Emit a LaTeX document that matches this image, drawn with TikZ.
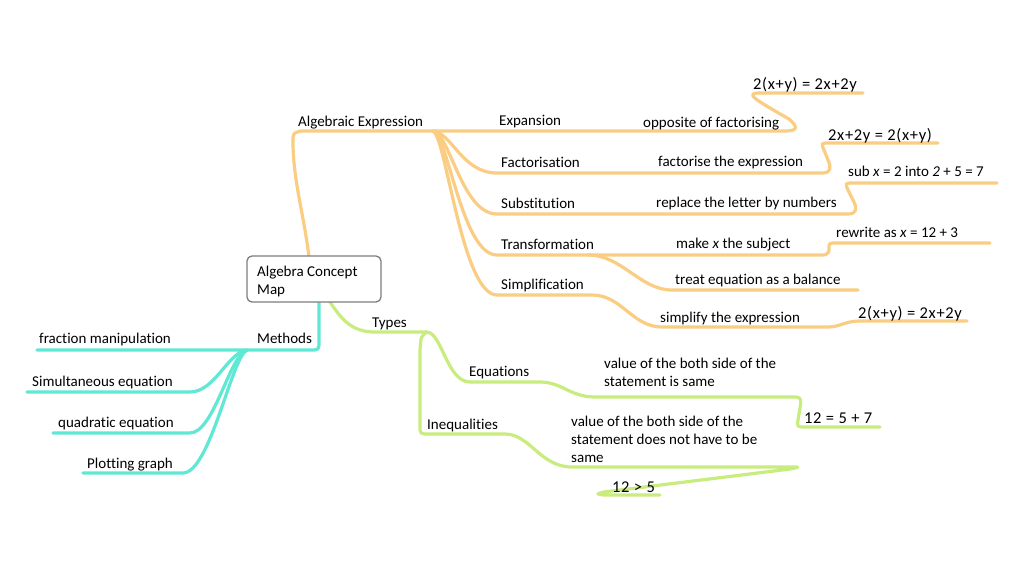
\documentclass[tikz,border=0pt]{standalone}
\usepackage{fontspec}
\setmainfont{Carlito}[Ligatures={NoCommon}]
\newfontfamily\formfont[LetterSpace=4,Ligatures={NoCommon}]{Carlito}
\definecolor{orangeL}{RGB}{250,205,130}
\definecolor{tealL}{RGB}{95,232,212}
\definecolor{greenL}{RGB}{200,236,125}
\definecolor{boxgray}{RGB}{125,125,125}
\tikzset{
  lbl/.style={anchor=base west, inner sep=0pt, font=\fontsize{15}{18}\selectfont, text=black},
  mlbl/.style={anchor=north west, inner sep=0pt, font=\fontsize{15}{18}\selectfont, align=left, text=black},
  formula/.style={anchor=base west, inner sep=0pt, font=\fontsize{16.5}{18}\formfont, text=black},
  obr/.style={draw=orangeL, line width=3.2pt, line cap=round, line join=round},
  tbr/.style={draw=tealL, line width=3.2pt, line cap=round, line join=round},
  gbr/.style={draw=greenL, line width=3.2pt, line cap=round, line join=round},
}
\begin{document}
\begin{tikzpicture}[x=1pt,y=-1pt]
\useasboundingbox[fill=white] (0,0) rectangle (1024,574);

% coordinates
\coordinate (bO) at (433,131);
\coordinate (bG) at (427,332);
\coordinate (bT) at (247,350);

% ---------- orange branches ----------
\draw[obr] (309,257) .. controls (304,215) and (293,180) .. (293,142) .. controls (293,133) .. (301,131) -- (bO);
% expansion
\draw[obr] (bO) -- (785,131) .. controls (798,131) and (798,127) .. (789,119) .. controls (754,99) and (744,93) .. (760,93) -- (863,93);
% factorisation
\draw[obr] (bO) .. controls (452,133) and (462,173) .. (497,173) -- (822,173) .. controls (832,173) and (831,167) .. (828,160) -- (824,150) .. controls (821,143) .. (830,143) -- (938,143);
% substitution
\draw[obr] (bO) .. controls (450,134) and (462,214) .. (497,214) -- (848,214) .. controls (857,214) and (857,208) .. (854,202) -- (848,190) .. controls (845,183) .. (854,183) -- (997,183);
% transformation
\draw[obr] (bO) .. controls (448,135) and (462,255) .. (497,255) -- (822,255) .. controls (830,255) and (829,250) .. (829,248) .. controls (829,243) .. (837,243) -- (990,243);
% treat equation as a balance
\draw[obr] (588,255) .. controls (622,255) and (640,290) .. (672,290) -- (858,290);
% simplification
\draw[obr] (bO) .. controls (446,136) and (462,295) .. (497,295) -- (592,295) .. controls (622,295) and (632,327) .. (662,327) -- (828,327) .. controls (840,327) and (845,321) .. (860,321) -- (967,321);

% ---------- teal branches ----------
\draw[tbr] (319,302) -- (319,341) .. controls (319,350) .. (310,350) -- (bT) -- (37,350);
\draw[tbr] (bT) .. controls (228,352) and (215,392) .. (190,392) -- (27,392);
\draw[tbr] (bT) .. controls (230,354) and (214,433) .. (190,433) -- (53,433);
\draw[tbr] (bT) .. controls (232,356) and (210,473) .. (183,473) -- (83,473);

% ---------- green branches ----------
\draw[gbr] (330,302) .. controls (342,320) and (352,332) .. (375,332) -- (bG);
% equations
\draw[gbr] (bG) .. controls (442,333) and (447,382) .. (470,382) -- (540,382) .. controls (562,382) and (570,397) .. (595,397) -- (796,397) .. controls (802,397) and (801,402) .. (800,408) -- (798,420) .. controls (797,427) .. (806,427) -- (880,427);
% inequalities
\draw[gbr] (bG) .. controls (421,336) .. (420,350) -- (420,426) .. controls (420,434) .. (430,434) -- (505,434) .. controls (530,434) and (540,467) .. (572,467) -- (792,467) .. controls (800,467) .. (790,469) -- (604,492) .. controls (596,494) .. (604,495) -- (660,495);

% ---------- central node ----------
\draw[boxgray, line width=1.3pt, rounded corners=5pt, fill=white] (247,256) rectangle (381,302);
\node[mlbl] (center) at (257,266) {Algebra Concept\\Map};

% ---------- labels ----------
\node[lbl] (alg) at (298,126) {Algebraic Expression};
\node[lbl] (exp) at (499,125) {Expansion};
\node[lbl] (fac) at (501,167) {Factorisation};
\node[lbl] (sub) at (501,208) {Substitution};
\node[lbl] (tra) at (501,249) {Transformation};
\node[lbl] (sim) at (501,289) {Simplification};

\node[lbl] (oppo) at (643,127) {opposite of factorising};
\node[lbl] (fact) at (658,166) {factorise the expression};
\node[lbl] (repl) at (656,207) {replace the letter by numbers};
\node[lbl] (make) at (676,248) {make \textit{x} the subject};
\node[lbl] (treat) at (675,284) {treat equation as a balance};
\node[lbl] (simp) at (660,322) {simplify the expression};

\node[formula] (f1) at (753,89) {2(x+y) = 2x+2y};
\node[formula] (f2) at (828,140) {2x+2y = 2(x+y)};
\node[lbl] (subx) at (848,176) {sub \textit{x} = 2 into \textit{2} + 5 = 7};
\node[lbl] (rew) at (836,237) {rewrite as \textit{x} = 12 + 3};
\node[formula] (f3) at (858,318) {2(x+y) = 2x+2y};

\node[lbl] (meth) at (257,343) {Methods};
\node[lbl] (frac) at (39,343) {fraction manipulation};
\node[lbl] (simu) at (32,386) {Simultaneous equation};
\node[lbl] (quad) at (58,427) {quadratic equation};
\node[lbl] (plot) at (87,468) {Plotting graph};

\node[lbl] (types) at (372,327) {Types};
\node[lbl] (equ) at (469,376) {Equations};
\node[lbl] (ineq) at (427,429) {Inequalities};
\node[mlbl] (equd) at (604,358) {value of the both side of the\\statement is same};
\node[mlbl] (ineqd) at (571,416) {value of the both side of the\\statement does not have to be\\same};
\node[formula] (f4) at (804,423) {12 = 5 + 7};
\node[formula] (f5) at (612,492) {12 > 5};
\end{tikzpicture}
\end{document}
